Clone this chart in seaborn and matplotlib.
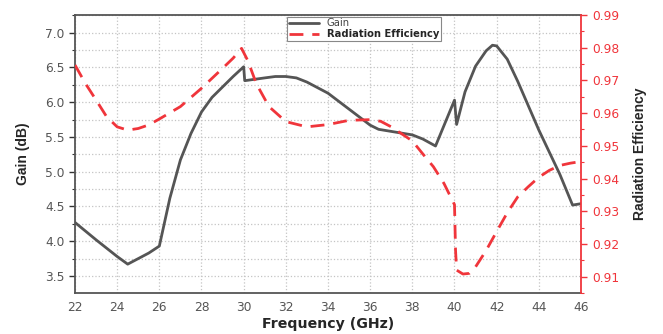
import matplotlib
matplotlib.use("Agg")
import matplotlib.pyplot as plt
import seaborn as sns
import numpy as np
import pandas as pd
from matplotlib.ticker import MultipleLocator

freq_gain = [22, 23, 24, 24.5, 25, 25.5, 26, 26.5, 27, 27.5, 28, 28.5, 29, 29.5, 30,
             30.05, 31, 31.5, 32, 32.5, 33, 34, 35, 36, 36.4, 37, 38, 38.5, 39.1, 40,
             40.1, 40.5, 41, 41.5, 41.8, 42, 42.5, 43, 44, 45, 45.6, 46]
gain = [4.27, 4.02, 3.78, 3.67, 3.75, 3.83, 3.93, 4.62, 5.17, 5.55, 5.86, 6.07, 6.22, 6.37, 6.51,
        6.31, 6.35, 6.37, 6.37, 6.35, 6.29, 6.13, 5.90, 5.67, 5.61, 5.58, 5.53, 5.47, 5.37, 6.03,
        5.68, 6.15, 6.52, 6.74, 6.82, 6.81, 6.62, 6.30, 5.60, 4.96, 4.52, 4.54]

freq_eff = [22, 22.5, 23, 23.5, 24, 24.5, 25, 25.5, 26, 27, 28, 29, 29.5, 29.9, 30.2, 30.6,
            31.2, 32, 33, 34, 35, 36, 36.5, 37, 38, 38.5, 39, 39.5, 40, 40.05, 40.1, 40.4,
            40.7, 41, 41.5, 42, 42.5, 43, 43.5, 44, 44.5, 45, 45.5, 46]
eff = [0.9747, 0.9690, 0.9640, 0.9589, 0.9558, 0.9548, 0.9553, 0.9564, 0.9582, 0.9620, 0.9676,
       0.9737, 0.9768, 0.9798, 0.9760, 0.9690, 0.9620, 0.9574, 0.9558, 0.9565, 0.9578, 0.9580,
       0.9575, 0.9558, 0.9515, 0.9475, 0.9436, 0.9385, 0.9320, 0.9180, 0.9120, 0.9108, 0.9110,
       0.9130, 0.9180, 0.9238, 0.9295, 0.9344, 0.9375, 0.9404, 0.9425, 0.9440, 0.9447, 0.9452]

x_ticks = [22, 24, 26, 28, 30, 32, 34, 36, 38, 40, 42, 44, 46]
gain_ticks = [3.5, 4.0, 4.5, 5.0, 5.5, 6.0, 6.5, 7.0]
eff_ticks = [0.91, 0.92, 0.93, 0.94, 0.95, 0.96, 0.97, 0.98, 0.99]

sns.set_style("white")
plt.rcParams['font.family'] = ['DejaVu Sans']

df_g = pd.DataFrame({"Frequency": freq_gain, "Gain": gain})
df_e = pd.DataFrame({"Frequency": freq_eff, "Eff": eff})

fig = plt.figure(figsize=(6.63, 3.34), dpi=100)
ax = fig.add_axes([75/663, 1-293/334, (581-75)/663, (293-15)/334])
ax2 = ax.twinx()

gray = "#555555"
red = "#f0353b"

sns.lineplot(data=df_g, x="Frequency", y="Gain", ax=ax, color=gray, lw=2.0,
             label="Gain", legend=False, sort=False)
sns.lineplot(data=df_e, x="Frequency", y="Eff", ax=ax2, color=red, lw=2.0,
             dashes=False, label="Radiation Efficiency", legend=False, sort=False)
ax2.lines[0].set_dashes([5, 3.2])

ax.set_xlim(22, 46)
ax.set_ylim(3.255, 7.255)
ax2.set_ylim(0.905, 0.99)

ax.set_xticks(x_ticks)
ax.set_xticklabels([str(t) for t in x_ticks])
ax.xaxis.set_minor_locator(MultipleLocator(1))
ax.set_yticks(gain_ticks)
ax.set_yticklabels([f"{t:.1f}" for t in gain_ticks])
ax.yaxis.set_minor_locator(MultipleLocator(0.25))
ax2.set_yticks(eff_ticks)
ax2.set_yticklabels([f"{t:.2f}" for t in eff_ticks])
ax2.yaxis.set_minor_locator(MultipleLocator(0.005))

ax.grid(True, which="major", axis="x", color="#c4c4c4", ls=":", lw=0.9)
ax.grid(True, which="both", axis="y", color="#c4c4c4", ls=":", lw=0.9)
ax.set_axisbelow(True)

ax.tick_params(axis="both", which="major", direction="out", length=4, width=1,
               labelsize=8.8, colors="#333333", labelcolor="#555555")
ax.tick_params(axis="both", which="minor", direction="out", length=2, width=0.8, colors="#333333")
ax.tick_params(axis="x", pad=2)
ax2.tick_params(axis="y", which="major", direction="out", length=4, width=1,
                labelsize=8.8, colors=red, labelcolor=red, pad=4)
ax2.tick_params(axis="y", which="minor", direction="out", length=2, width=0.8, colors=red)

for sp in ["left", "bottom", "top"]:
    ax.spines[sp].set_color("#555555")
    ax.spines[sp].set_linewidth(1.3)
ax.spines["right"].set_visible(False)
ax2.spines["right"].set_color(red)
ax2.spines["right"].set_linewidth(1.3)
for sp in ["left", "bottom", "top"]:
    ax2.spines[sp].set_visible(False)

ax.set_xlabel("Frequency (GHz)", fontsize=10.2, fontweight="bold", labelpad=2)
ax.set_ylabel("Gain (dB)", fontsize=10, fontweight="bold", labelpad=11,
              family="Liberation Sans")
ax2.set_ylabel("Radiation Efficiency", fontsize=10, fontweight="bold", labelpad=10,
               family="Liberation Sans")

h1, l1 = ax.get_legend_handles_labels()
h2, l2 = ax2.get_legend_handles_labels()
leg = ax2.legend(h1 + h2, l1 + l2, loc="upper left", bbox_to_anchor=(0.416, 1.0),
                 fontsize=7.2, frameon=True, fancybox=False, edgecolor="#888888",
                 framealpha=1, borderpad=0.2, labelspacing=0.05, handlelength=3.0,
                 handletextpad=0.8, borderaxespad=0.15)
leg.get_frame().set_linewidth(0.8)
texts = leg.get_texts()
texts[0].set_color("#444444")
texts[1].set_fontweight("bold")

fig.savefig("out.png", dpi=100)
